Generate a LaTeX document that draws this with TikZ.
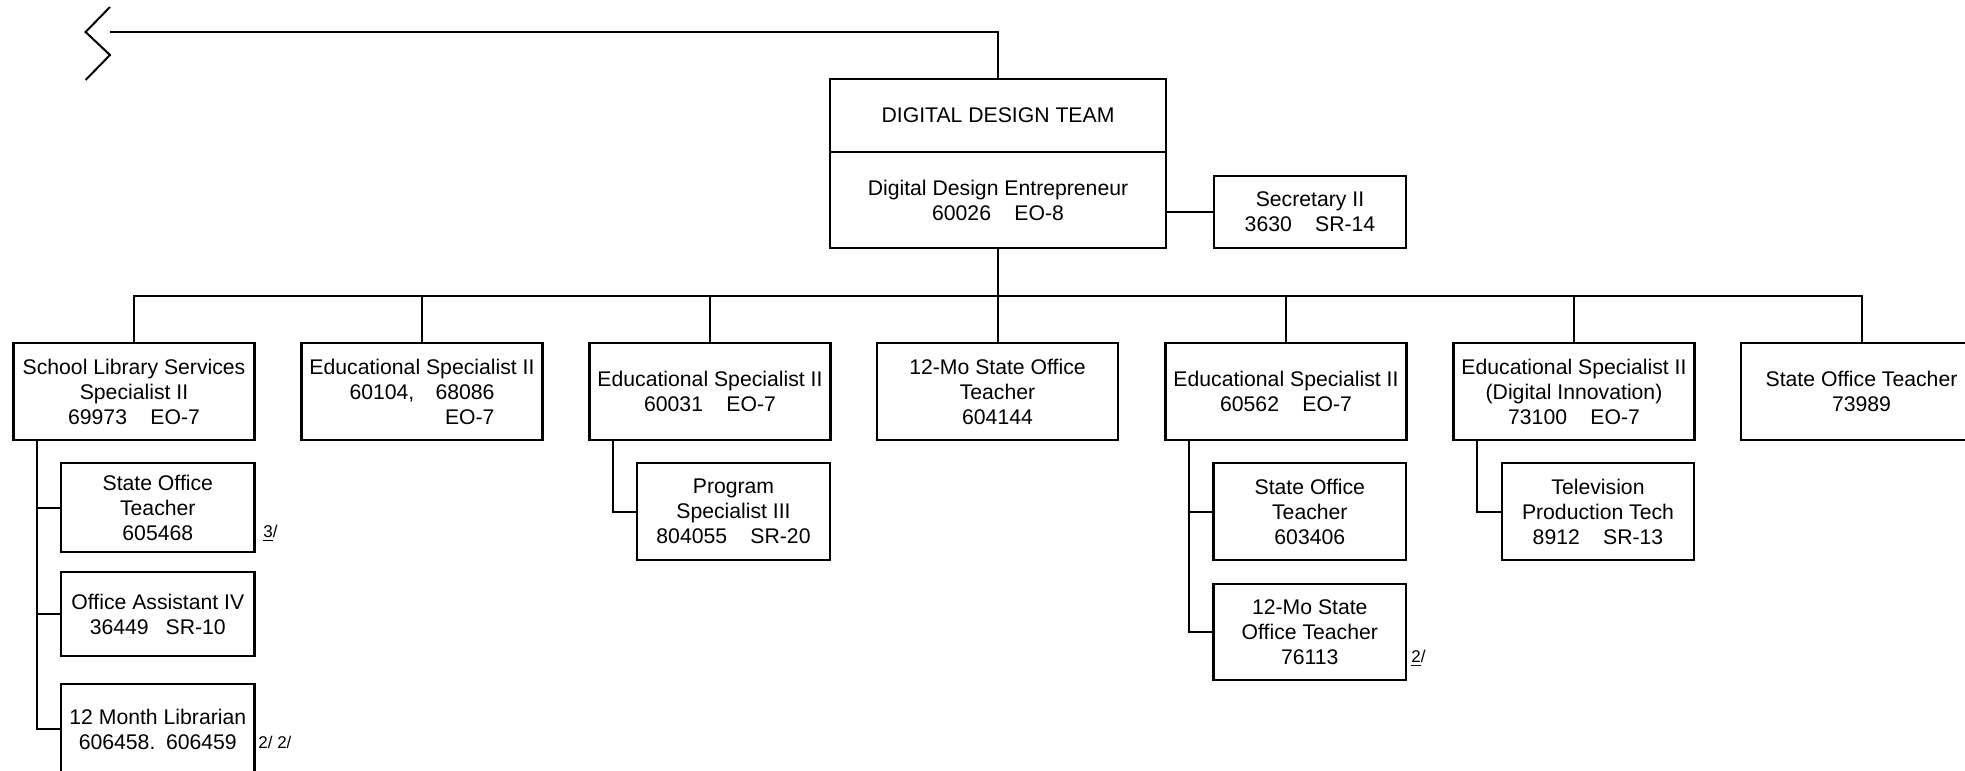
\documentclass[tikz,border=0pt]{standalone}
\usepackage{fontspec}
\setmainfont{Liberation Sans}
\usetikzlibrary{calc}
\newcommand\gsp{\hspace{1.1em}}
\tikzset{
  box/.style={draw, line width=1.2pt, inner sep=0pt, align=center, font=\fontsize{10.6}{12.5}\selectfont},
  wh/.style 2 args={minimum width=#1*0.5pt, minimum height=#2*0.5pt},
  conn/.style={line width=1pt},
  fn/.style={inner sep=0pt, anchor=west, font=\fontsize{8.5}{10}\selectfont}
}
\begin{document}
\begin{tikzpicture}[x=0.5pt,y=-0.5pt]
\path[use as bounding box] (0,0) rectangle (1965,771);
\clip (0,0) rectangle (1965,771);
% top
\node[box,wh={336}{73}] (T1) at (998,115.5) {DIGITAL DESIGN TEAM};
\node[box,wh={336}{96}] (T2) at (998,200) {Digital Design Entrepreneur\\60026\gsp EO-8};
\node[box,wh={192}{72}] (S) at (1310,212) {Secretary II\\3630\gsp SR-14};
% level 1
\node[box,wh={241}{97}] (A1) at (134,391.5) {School Library Services\\Specialist II\\69973\gsp EO-7};
\node[box,wh={241}{97}] (A2) at (422,391.5) {Educational Specialist II\\60104,\quad 68086\\\hphantom{60104,\quad 68086}\llap{EO-7}};
\node[box,wh={241}{97}] (A3) at (710,391.5) {Educational Specialist II\\60031\gsp EO-7};
\node[box,wh={241}{97}] (A4) at (997.5,391.5) {12-Mo State Office\\Teacher\\604144};
\node[box,wh={241}{97}] (A5) at (1286,391.5) {Educational Specialist II\\60562\gsp EO-7};
\node[box,wh={241}{97}] (A6) at (1574,391.5) {Educational Specialist II\\(Digital Innovation)\\73100\gsp EO-7};
\node[box,wh={241}{97}] (A7) at (1861.5,391.5) {State Office Teacher\\73989};
% children
\node[box,wh={193.5}{89}] (C1) at (157.8,507.5) {State Office\\Teacher\\605468};
\node[box,wh={193.5}{84}] (C2) at (157.8,614) {Office Assistant IV\\36449\hspace{0.8em}SR-10};
\node[box,wh={193.5}{90}] (C3) at (157.8,729) {12 Month Librarian\\606458.\hspace{0.5em}606459};
\node[box,wh={193}{97}] (P) at (733.5,511.5) {Program\\Specialist III\\804055\gsp SR-20};
\node[box,wh={192.5}{97}] (D1) at (1309.8,511.5) {State Office\\Teacher\\603406};
\node[box,wh={192.5}{96}] (D2) at (1309.8,632) {12-Mo State\\Office Teacher\\76113};
\node[box,wh={192}{97}] (E1) at (1598,511.5) {Television\\Production Tech\\8912\gsp SR-13};
% footnotes
\node[fn] (f1) at (263,533) {\underline{3}/};
\node[fn] (f2) at (258,742) {2/\ 2/};
\node[fn] (f3) at (1411,658) {\underline{2}/};
% break line at top
\coordinate (brk) at (110,32);
\draw[conn] (T1.north) |- (brk);
\draw[conn] (110,7) -- (85.6,32) -- (110,55) -- (85.6,80);
% secretary
\draw[conn] (S.west -| T2.east) -- (S.west);
% bus
\coordinate (bus) at (134,296);
\draw[conn] (T2.south) -- (T2.south |- bus);
\draw[conn] (A1.north) -- (A1.north |- bus) -- (A7.north |- bus) -- (A7.north);
\foreach \n in {A2,A3,A4,A5,A6} \draw[conn] (\n.north) -- (\n.north |- bus);
% spines
\foreach \c in {C1,C2,C3} \draw[conn] ($(A1.south west)+(24.5,0)$) |- (\c.west);
\draw[conn] ($(A3.south west)+(25,0)$) |- (P.west);
\foreach \c in {D1,D2} \draw[conn] ($(A5.south west)+(24.5,0)$) |- (\c.west);
\draw[conn] ($(A6.south west)+(24.5,0)$) |- (E1.west);
\end{tikzpicture}
\end{document}
